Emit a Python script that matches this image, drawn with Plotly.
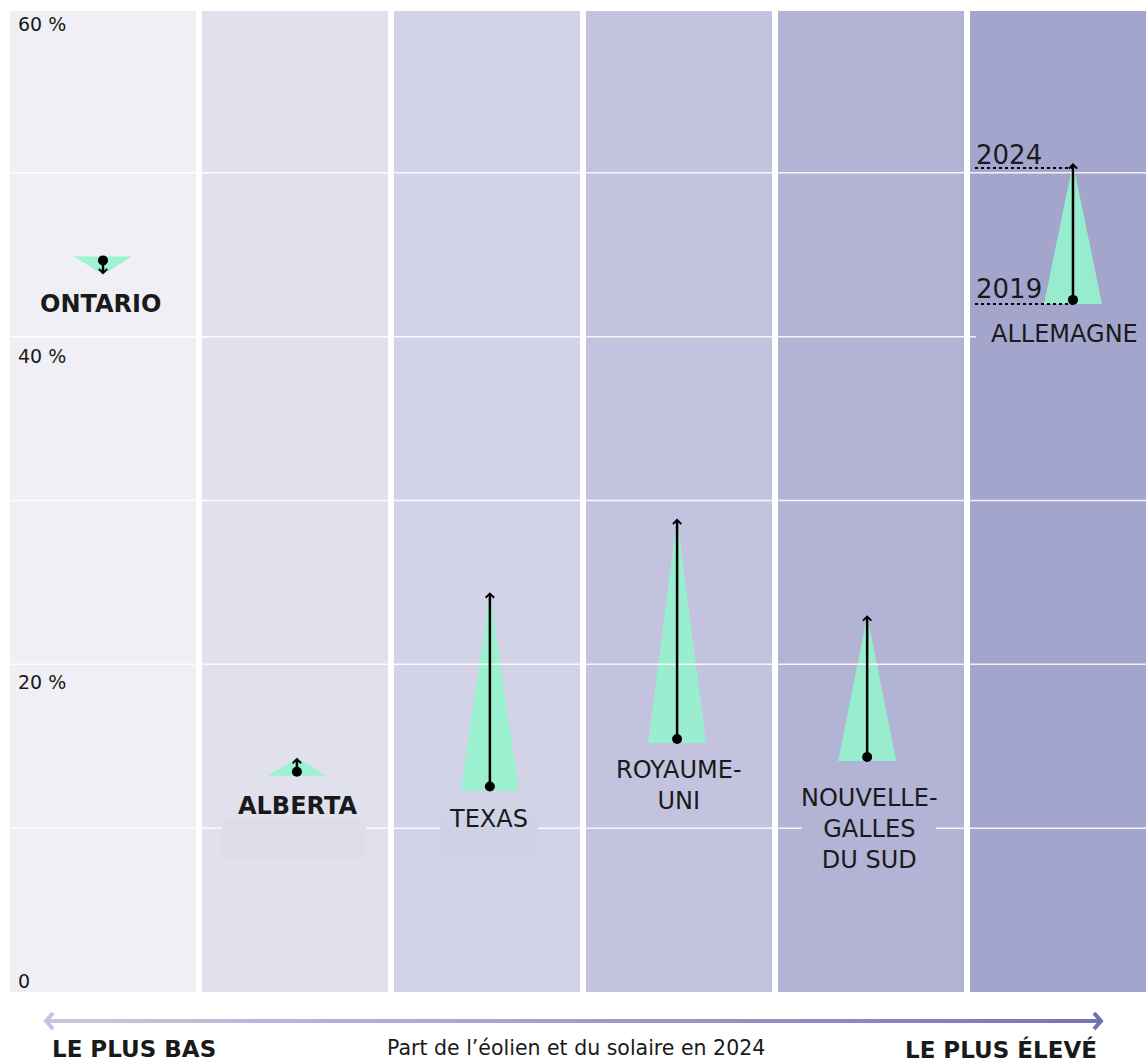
import plotly.graph_objects as go

# ---------------- data ----------------
regions = ["Ontario", "Alberta", "Texas", "Royaume-Uni", "Nouvelle-Galles du Sud", "Allemagne"]
region_labels = ["<b>ONTARIO</b>", "<b>ALBERTA</b>", "TEXAS", "ROYAUME-<br>UNI",
                 "NOUVELLE-<br>GALLES<br>DU SUD", "ALLEMAGNE"]
share_2019 = [44.9, 13.2, 12.3, 15.2, 14.1, 42.0]
share_2024 = [43.8, 14.3, 24.4, 28.9, 23.0, 50.6]
y_tick_values = [60, 40, 20, 0]
y_tick_labels = ["60 %", "40 %", "20 %", "0"]
grid_levels = [10, 20, 30, 40, 50]
column_colors = ["#EFEFF5", "#E1E1EE", "#D2D3E7", "#C3C3DF", "#B3B3D6", "#A4A5CD"]

# ---------------- geometry helpers (pixel -> data) ----------------
W, H = 1146, 1064
ML, MR, MT, MB = 10, 0, 9, 72
PX_PER_X = 192.0
PLOT_H = H - MT - MB
YMAX = 60
X0 = -0.5 * 186 / 192
X1 = X0 + (W - ML - MR) / PX_PER_X


def xd(px):
    return X0 + (px - ML) / PX_PER_X


def yd(py):
    return (H - MB - py) * YMAX / PLOT_H


def dy(pixels):
    return pixels * YMAX / PLOT_H


def xp(px):  # paper x
    return (px - ML) / (W - ML - MR)


def yp(py):  # paper y
    return (H - MB - py) / PLOT_H


FONT = "DejaVu Sans"
TXT = "#1a1a1a"
GREEN = "rgba(150,242,206,0.92)"

n = len(regions)
mark_dx = [0, 0.01, 0.015, -0.01, -0.02, 0.052]
xc = [i + mark_dx[i] for i in range(n)]
half_w = 29 / PX_PER_X

fig = go.Figure()

# columns
fig.add_trace(go.Bar(x=list(range(n)), y=[59.9] * n, width=186 / 192,
                     marker=dict(color=column_colors, line=dict(width=0)),
                     hoverinfo="skip", showlegend=False))

# triangles (base at 2019, apex at 2024)
for i in range(n):
    b, a = share_2019[i], share_2024[i]
    fig.add_trace(go.Scatter(x=[xc[i] - half_w, xc[i] + half_w, xc[i], xc[i] - half_w],
                             y=[b, b, a, b], mode="lines", fill="toself",
                             fillcolor=GREEN, line=dict(width=0),
                             hoverinfo="skip", showlegend=False))

# grid lines
gx, gy = [], []
for g in grid_levels:
    gx += [X0 - 0.1, X1 + 0.1, None]
    gy += [g, g, None]
fig.add_trace(go.Scatter(x=gx, y=gy, mode="lines",
                         line=dict(color="rgba(255,255,255,0.85)", width=1.5),
                         hoverinfo="skip", showlegend=False))

# Germany dotted reference lines
gi = n - 1
fig.add_trace(go.Scatter(x=[xd(975), xc[gi], None, xd(975), xc[gi]],
                         y=[share_2024[gi] - dy(5), share_2024[gi] - dy(5), None,
                            share_2019[gi], share_2019[gi]],
                         mode="lines", line=dict(color="black", width=2, dash="dot"),
                         hoverinfo="skip", showlegend=False))

# dots at 2019
dot_y = []
for i in range(n):
    sgn = 1 if share_2024[i] > share_2019[i] else -1
    dot_y.append(share_2019[i] + sgn * dy(4))
fig.add_trace(go.Scatter(x=xc, y=dot_y, mode="markers",
                         marker=dict(color="black", size=10),
                         hoverinfo="skip", showlegend=False))

annotations = []
# arrows 2019 -> 2024
for i in range(n):
    annotations.append(dict(x=xc[i], y=share_2024[i], ax=xc[i], ay=dot_y[i],
                            xref="x", yref="y", axref="x", ayref="y", text="",
                            showarrow=True, arrowhead=4, arrowsize=0.65,
                            arrowwidth=2.5, arrowcolor="black", standoff=0))

# y tick labels
tick_px = {60: 24, 40: 355.5, 20: 681.5, 0: 981}
for v, lab in zip(y_tick_values, y_tick_labels):
    annotations.append(dict(x=xd(16), y=yd(tick_px[v]), xref="x", yref="y", text=lab,
                            showarrow=False, xanchor="left", yanchor="middle",
                            font=dict(family=FONT, size=19, color=TXT)))

# label background boxes (hide grid lines)
shapes = []
boxes = [  # (x0px, x1px, y0px, y1px, color)
    (222, 366, 818, 858, "#DEDEEB"),
    (440, 538, 815, 855, "#D0D1E6"),
    (802, 936, 815, 842, column_colors[4]),
    (976, 1146, 326, 346, column_colors[5]),
]
for x0, x1, y0, y1, c in boxes:
    shapes.append(dict(type="rect", xref="x", yref="y", x0=xd(x0), x1=xd(x1),
                       y0=yd(y1), y1=yd(y0), fillcolor=c, line=dict(width=0),
                       layer="above"))

# region labels
label_pos = [  # (x px, y px center, anchor)
    (100, 304, "center"),
    (297, 806, "center"),
    (488, 819, "center"),
    (679, 785, "center"),
    (869, 829, "center"),
    (989, 334, "left"),
]
for i in range(n):
    px, py, anc = label_pos[i]
    annotations.append(dict(x=xd(px), y=yd(py), xref="x", yref="y",
                            text=region_labels[i], showarrow=False,
                            xanchor=anc, yanchor="middle",
                            font=dict(family=FONT, size=24, color=TXT)))

# Germany year labels
annotations.append(dict(x=xd(974), y=yd(155), xref="x", yref="y", text="2024",
                        showarrow=False, xanchor="left", yanchor="middle",
                        font=dict(family=FONT, size=26, color=TXT)))
annotations.append(dict(x=xd(974), y=yd(289), xref="x", yref="y", text="2019",
                        showarrow=False, xanchor="left", yanchor="middle",
                        font=dict(family=FONT, size=26, color=TXT)))

# bottom gradient arrow
c0 = (201, 201, 227)
c1 = (118, 118, 182)
seg_n = 80
ax0, ax1, ay = 47, 1100, 1021
for k in range(seg_n):
    t0 = k / seg_n
    t1 = (k + 1) / seg_n
    tm = (t0 + t1) / 2
    col = "rgb(%d,%d,%d)" % tuple(int(c0[j] + (c1[j] - c0[j]) * tm) for j in range(3))
    shapes.append(dict(type="line", xref="paper", yref="paper",
                       x0=xp(ax0 + (ax1 - ax0) * t0), x1=xp(ax0 + (ax1 - ax0) * t1 + 0.5),
                       y0=yp(ay), y1=yp(ay), line=dict(color=col, width=4)))
shapes.append(dict(type="path", xref="paper", yref="paper",
                   path="M %f,%f L %f,%f L %f,%f" % (xp(53), yp(1013), xp(46), yp(1021), xp(53), yp(1029)),
                   line=dict(color="rgb(196,196,225)", width=4)))
shapes.append(dict(type="path", xref="paper", yref="paper",
                   path="M %f,%f L %f,%f L %f,%f" % (xp(1094), yp(1013), xp(1101), yp(1021), xp(1094), yp(1029)),
                   line=dict(color="rgb(112,112,178)", width=4)))

annotations.append(dict(x=xp(50), y=yp(1049), xref="paper", yref="paper",
                        text="<b>LE PLUS BAS</b>", showarrow=False,
                        xanchor="left", yanchor="middle",
                        font=dict(family=FONT, size=23, color=TXT)))
annotations.append(dict(x=xp(576), y=yp(1048), xref="paper", yref="paper",
                        text="Part de l’éolien et du solaire en 2024", showarrow=False,
                        xanchor="center", yanchor="middle",
                        font=dict(family=FONT, size=20.5, color=TXT)))
annotations.append(dict(x=xp(1099), y=yp(1049), xref="paper", yref="paper",
                        text="<b>LE PLUS ÉLEVÉ</b>", showarrow=False,
                        xanchor="right", yanchor="middle",
                        font=dict(family=FONT, size=23, color=TXT)))

fig.update_layout(
    width=W, height=H,
    margin=dict(l=ML, r=MR, t=MT, b=MB, pad=0),
    paper_bgcolor="white", plot_bgcolor="white",
    xaxis=dict(range=[X0, X1], visible=False, fixedrange=True),
    yaxis=dict(range=[0, YMAX], visible=False, fixedrange=True),
    showlegend=False, bargap=0,
    shapes=shapes, annotations=annotations,
    font=dict(family=FONT),
)

fig.write_html("out.html", config={"displayModeBar": False})
